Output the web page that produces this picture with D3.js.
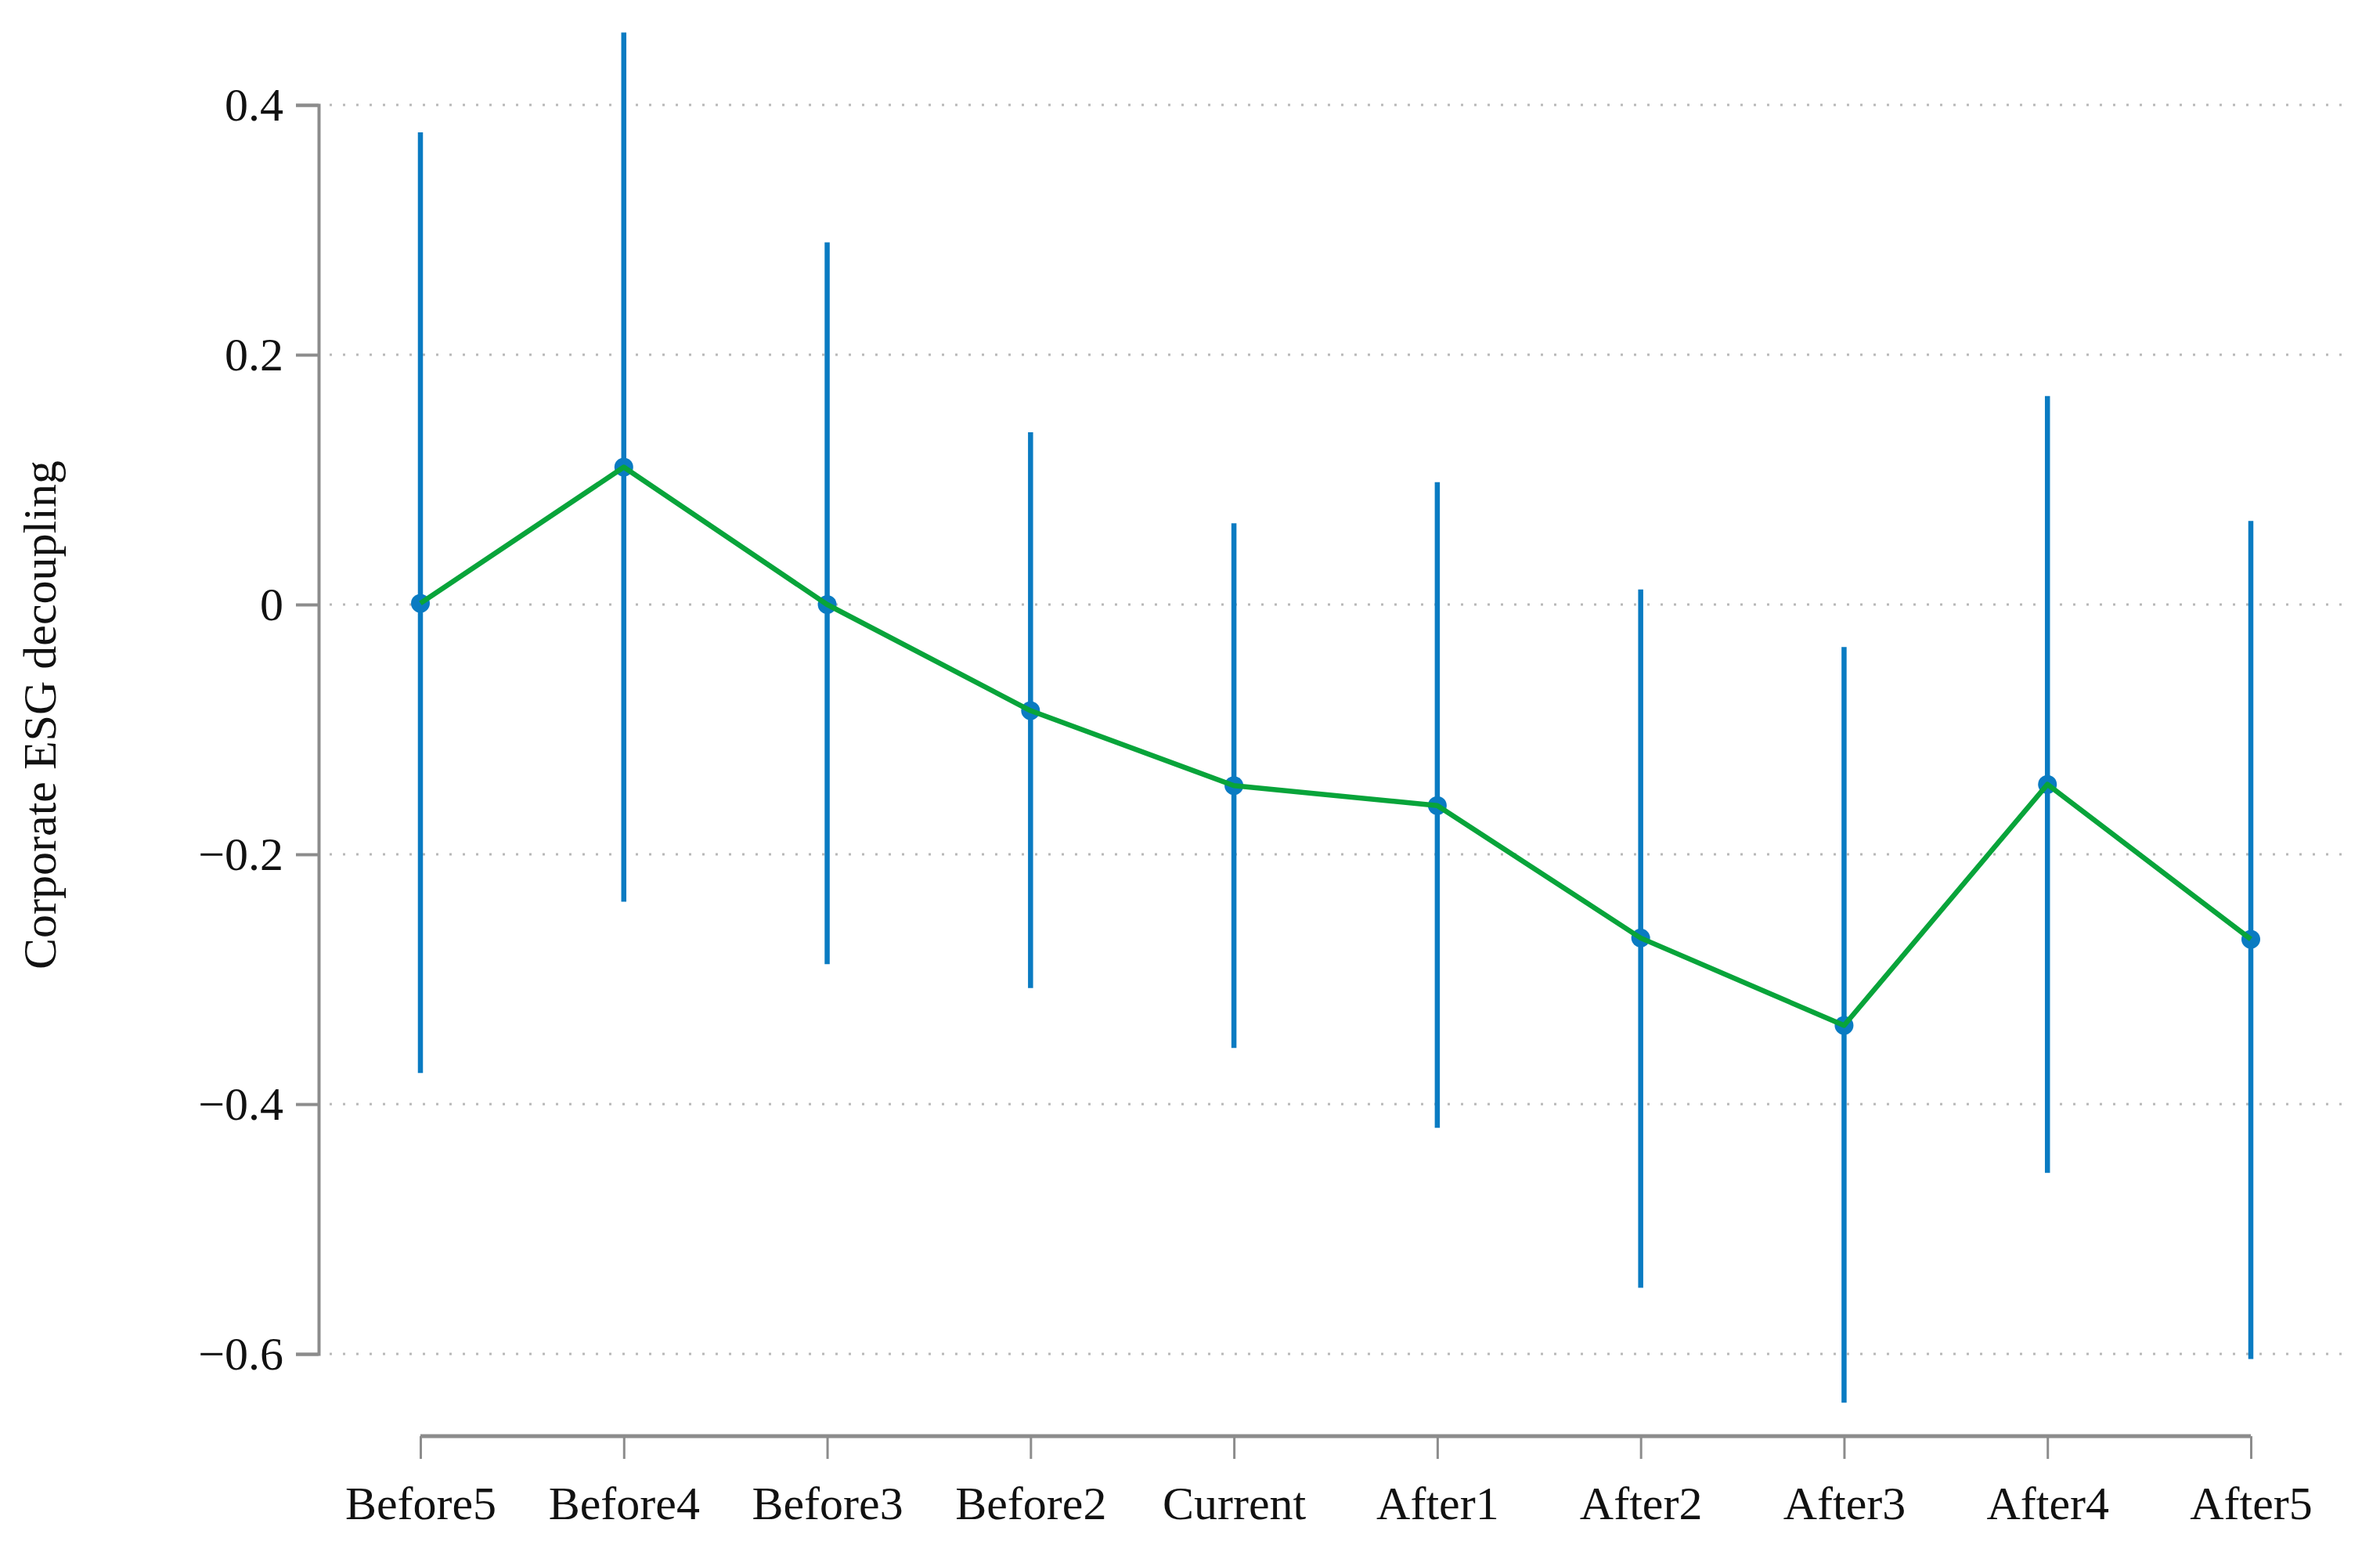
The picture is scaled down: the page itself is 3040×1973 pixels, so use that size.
<!DOCTYPE html>
<html>
<head>
<meta charset="utf-8">
<script src="https://cdn.jsdelivr.net/npm/d3@7"></script>
<style>
  body { margin: 0; background: #fff; }
  text { font-family: "Liberation Serif", "DejaVu Serif", serif; fill: #111; }
</style>
</head>
<body>
<div id="chart"></div>
<script>
var periods = ["Before5", "Before4", "Before3", "Before2", "Current", "After1", "After2", "After3", "After4", "After5"];
var coef = [0.001, 0.110, 0.000, -0.085, -0.145, -0.161, -0.267, -0.337, -0.144, -0.268];
var ciLow = [-0.375, -0.238, -0.288, -0.307, -0.355, -0.419, -0.547, -0.639, -0.455, -0.604];
var ciHigh = [0.378, 0.458, 0.290, 0.138, 0.065, 0.098, 0.012, -0.034, 0.167, 0.067];
var yTicks = [0.4, 0.2, 0, -0.2, -0.4, -0.6];

var w = 3040, h = 1973;
var blue = "#0a7bc2", green = "#08a43a", axisGrey = "#8c8c8c";

var data = periods.map(function(p, i) {
  return { name: p, b: coef[i], lo: ciLow[i], hi: ciHigh[i] };
});

var x = d3.scalePoint().domain(periods).range([537, 2875]);
var y = d3.scaleLinear().domain([-0.6, 0.4]).range([1729, 134]);

var svg = d3.select("#chart")
  .append("svg")
  .attr("width", w)
  .attr("height", h);

// dotted gridlines
svg.append("g")
  .selectAll("line")
  .data(yTicks)
  .enter()
  .append("line")
  .attr("x1", 421)
  .attr("x2", 3003)
  .attr("y1", function(d) { return y(d); })
  .attr("y2", function(d) { return y(d); })
  .attr("stroke", "#b8b8b8")
  .attr("stroke-width", 3)
  .attr("stroke-dasharray", "3 14");

// y axis
var yAxis = d3.axisLeft(y)
  .tickValues(yTicks)
  .tickSize(29)
  .tickPadding(16)
  .tickFormat(function(d) { return d === 0 ? "0" : d3.format(".1f")(d).replace("-", "\u2212"); });

var gy = svg.append("g")
  .attr("transform", "translate(407,0)")
  .call(yAxis);
gy.select(".domain").attr("stroke", axisGrey).attr("stroke-width", 4);
gy.selectAll(".tick line").attr("stroke", axisGrey).attr("stroke-width", 4);
gy.selectAll(".tick text").attr("font-size", 60).style("font-family", "Liberation Serif").attr("fill", "#111");

// x axis
var xAxis = d3.axisBottom(x)
  .tickSize(29)
  .tickPadding(34);

var gx = svg.append("g")
  .attr("transform", "translate(0,1834)")
  .call(xAxis);
gx.select(".domain").attr("stroke", axisGrey).attr("stroke-width", 5)
  .attr("d", "M" + x(periods[0]) + ",0H" + x(periods[periods.length - 1]));
gx.selectAll(".tick line").attr("stroke", axisGrey).attr("stroke-width", 3);
gx.selectAll(".tick text").attr("font-size", 60).style("font-family", "Liberation Serif").attr("fill", "#111");

// y title
svg.append("text")
  .attr("transform", "translate(71,913) rotate(-90)")
  .attr("text-anchor", "middle")
  .attr("font-size", 60)
  .text("Corporate ESG decoupling");

// confidence intervals
svg.append("g")
  .selectAll("line")
  .data(data)
  .enter()
  .append("line")
  .attr("x1", function(d) { return x(d.name); })
  .attr("x2", function(d) { return x(d.name); })
  .attr("y1", function(d) { return y(d.lo); })
  .attr("y2", function(d) { return y(d.hi); })
  .attr("stroke", blue)
  .attr("stroke-width", 6.5);

// point estimates
svg.append("g")
  .selectAll("circle")
  .data(data)
  .enter()
  .append("circle")
  .attr("cx", function(d) { return x(d.name); })
  .attr("cy", function(d) { return y(d.b); })
  .attr("r", 12)
  .attr("fill", blue);

// connecting line
var line = d3.line()
  .x(function(d) { return x(d.name); })
  .y(function(d) { return y(d.b); });

svg.append("path")
  .datum(data)
  .attr("fill", "none")
  .attr("stroke", green)
  .attr("stroke-width", 6.5)
  .attr("stroke-linejoin", "round")
  .attr("d", line);
</script>
</body>
</html>
